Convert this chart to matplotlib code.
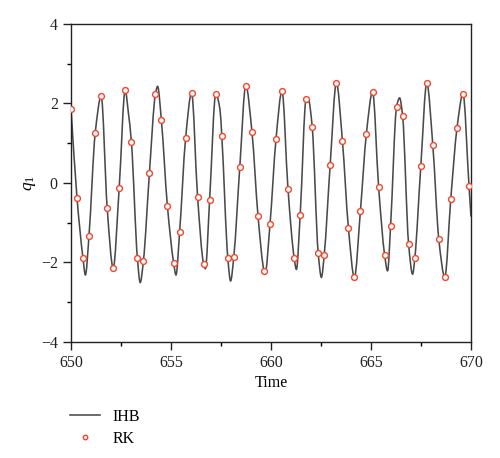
import numpy as np
import matplotlib
matplotlib.use("Agg")
import matplotlib.pyplot as plt
from matplotlib.path import Path
from matplotlib.patches import PathPatch
from matplotlib.lines import Line2D
from matplotlib.ticker import MultipleLocator

plt.rcParams['font.family'] = ['Liberation Serif', 'DejaVu Serif']
plt.rcParams['mathtext.fontset'] = 'custom'
plt.rcParams['mathtext.rm'] = 'Liberation Serif'
plt.rcParams['mathtext.it'] = 'Liberation Serif:italic'

# RK samples (time, q1)
rk_time = [650.00, 650.30, 650.60, 650.90, 651.21, 651.51, 651.81, 652.11, 652.41, 652.71,
           653.02, 653.32, 653.62, 653.92, 654.22, 654.52, 654.82, 655.13, 655.43, 655.73,
           656.03, 656.33, 656.63, 656.93, 657.24, 657.54, 657.84, 658.14, 658.44, 658.74,
           659.05, 659.35, 659.65, 659.95, 660.25, 660.55, 660.85, 661.16, 661.46, 661.76,
           662.06, 662.36, 662.66, 662.96, 663.27, 663.57, 663.87, 664.17, 664.47, 664.77,
           665.08, 665.38, 665.68, 665.98, 666.28, 666.58, 666.88, 667.19, 667.49, 667.79,
           668.09, 668.39, 668.69, 668.99, 669.30, 669.60, 669.90]
rk_q = [1.87, -0.38, -1.90, -1.33, 1.25, 2.18, -0.64, -2.14, -0.12, 2.33,
        1.03, -1.90, -1.97, 0.24, 2.23, 1.57, -0.58, -2.01, -1.25, 1.12,
        2.26, -0.36, -2.04, -0.44, 2.24, 1.18, -1.89, -1.86, 0.40, 2.45,
        1.27, -0.83, -2.22, -1.04, 1.10, 2.31, -0.16, -1.90, -0.80, 2.12,
        1.41, -1.77, -1.82, 0.46, 2.52, 1.06, -1.13, -2.38, -0.71, 1.24,
        2.29, -0.10, -1.81, -1.08, 1.92, 1.69, -1.54, -1.90, 0.42, 2.51,
        0.95, -1.42, -2.37, -0.40, 1.38, 2.24, -0.08]

# IHB curve: extra points (extrema, shoulders, end)
ihb_extra_time = [650.72, 652.87, 653.46, 654.33, 655.25, 656.72, 657.45, 657.98,
                  659.70, 661.27, 661.88, 662.52, 665.83, 666.43, 667.08, 670.00]
ihb_extra_q = [-2.32, 1.76, -2.51, 2.43, -2.32, -2.16, 1.84, -2.47,
               -2.30, -2.18, 2.08, -2.38, -2.22, 2.14, -2.30, -0.85]

ihb_time = np.array(rk_time + ihb_extra_time)
ihb_q = np.array(rk_q + ihb_extra_q)
order = np.argsort(ihb_time)
ihb_time, ihb_q = ihb_time[order], ihb_q[order]

fig = plt.figure(figsize=(5.0, 4.58), dpi=100)
ax = fig.add_axes([0.142, 0.254, 0.800, 0.6936])

# smooth (monotone cubic Hermite as Bezier segments) through the read points
x, y = ihb_time, ihb_q
h = np.diff(x)
d = np.diff(y) / h
m = np.zeros_like(y)
m[0], m[-1] = d[0], d[-1]
for i in range(1, len(y) - 1):
    if d[i - 1] * d[i] <= 0:
        m[i] = 0.0
    else:
        w1 = 2 * h[i] + h[i - 1]
        w2 = h[i] + 2 * h[i - 1]
        m[i] = (w1 + w2) / (w1 / d[i - 1] + w2 / d[i])
verts = [(x[0], y[0])]
codes = [Path.MOVETO]
for i in range(len(x) - 1):
    verts += [(x[i] + h[i] / 3, y[i] + m[i] * h[i] / 3),
              (x[i + 1] - h[i] / 3, y[i + 1] - m[i + 1] * h[i] / 3),
              (x[i + 1], y[i + 1])]
    codes += [Path.CURVE4] * 3
line_color = '#4a4a4a'
patch = PathPatch(Path(verts, codes), facecolor='none', edgecolor=line_color,
                  linewidth=1.15, transform=ax.transData, zorder=2)
ax.add_patch(patch)

ax.plot(rk_time, rk_q, linestyle='none', marker='o', markersize=4.2,
        markerfacecolor='white', markeredgecolor='#f2452a', markeredgewidth=1.0,
        zorder=3)

ax.set_xlim(650, 670)
ax.set_ylim(-4, 4)
ax.xaxis.set_major_locator(MultipleLocator(5))
ax.xaxis.set_minor_locator(MultipleLocator(2.5))
ax.yaxis.set_major_locator(MultipleLocator(2))
ax.yaxis.set_minor_locator(MultipleLocator(1))
ax.tick_params(which='major', direction='out', length=5.5, width=1.0, labelsize=11.5,
               colors='#222222', pad=4)
ax.tick_params(which='minor', direction='out', length=2.8, width=1.0)
for s in ax.spines.values():
    s.set_linewidth(1.0)
    s.set_color('#222222')

ax.set_xlabel('Time', fontsize=11.5, labelpad=3)
ax.set_ylabel(r'$q_1$', fontsize=12.5, labelpad=2)

handles = [Line2D([], [], color=line_color, linewidth=1.15),
           Line2D([], [], linestyle='none', marker='o', markersize=3.2,
                  markerfacecolor='white', markeredgecolor='#f2452a', markeredgewidth=1.0)]
fig.legend(handles, ['IHB', 'RK'], loc='upper left',
           bbox_to_anchor=(70.0 / 500, 1 - 409.0 / 458), frameon=False,
           borderpad=0, borderaxespad=0, handlelength=1.9, handletextpad=0.75,
           labelspacing=0.35, fontsize=11.5)

fig.savefig('out.png', dpi=100)
